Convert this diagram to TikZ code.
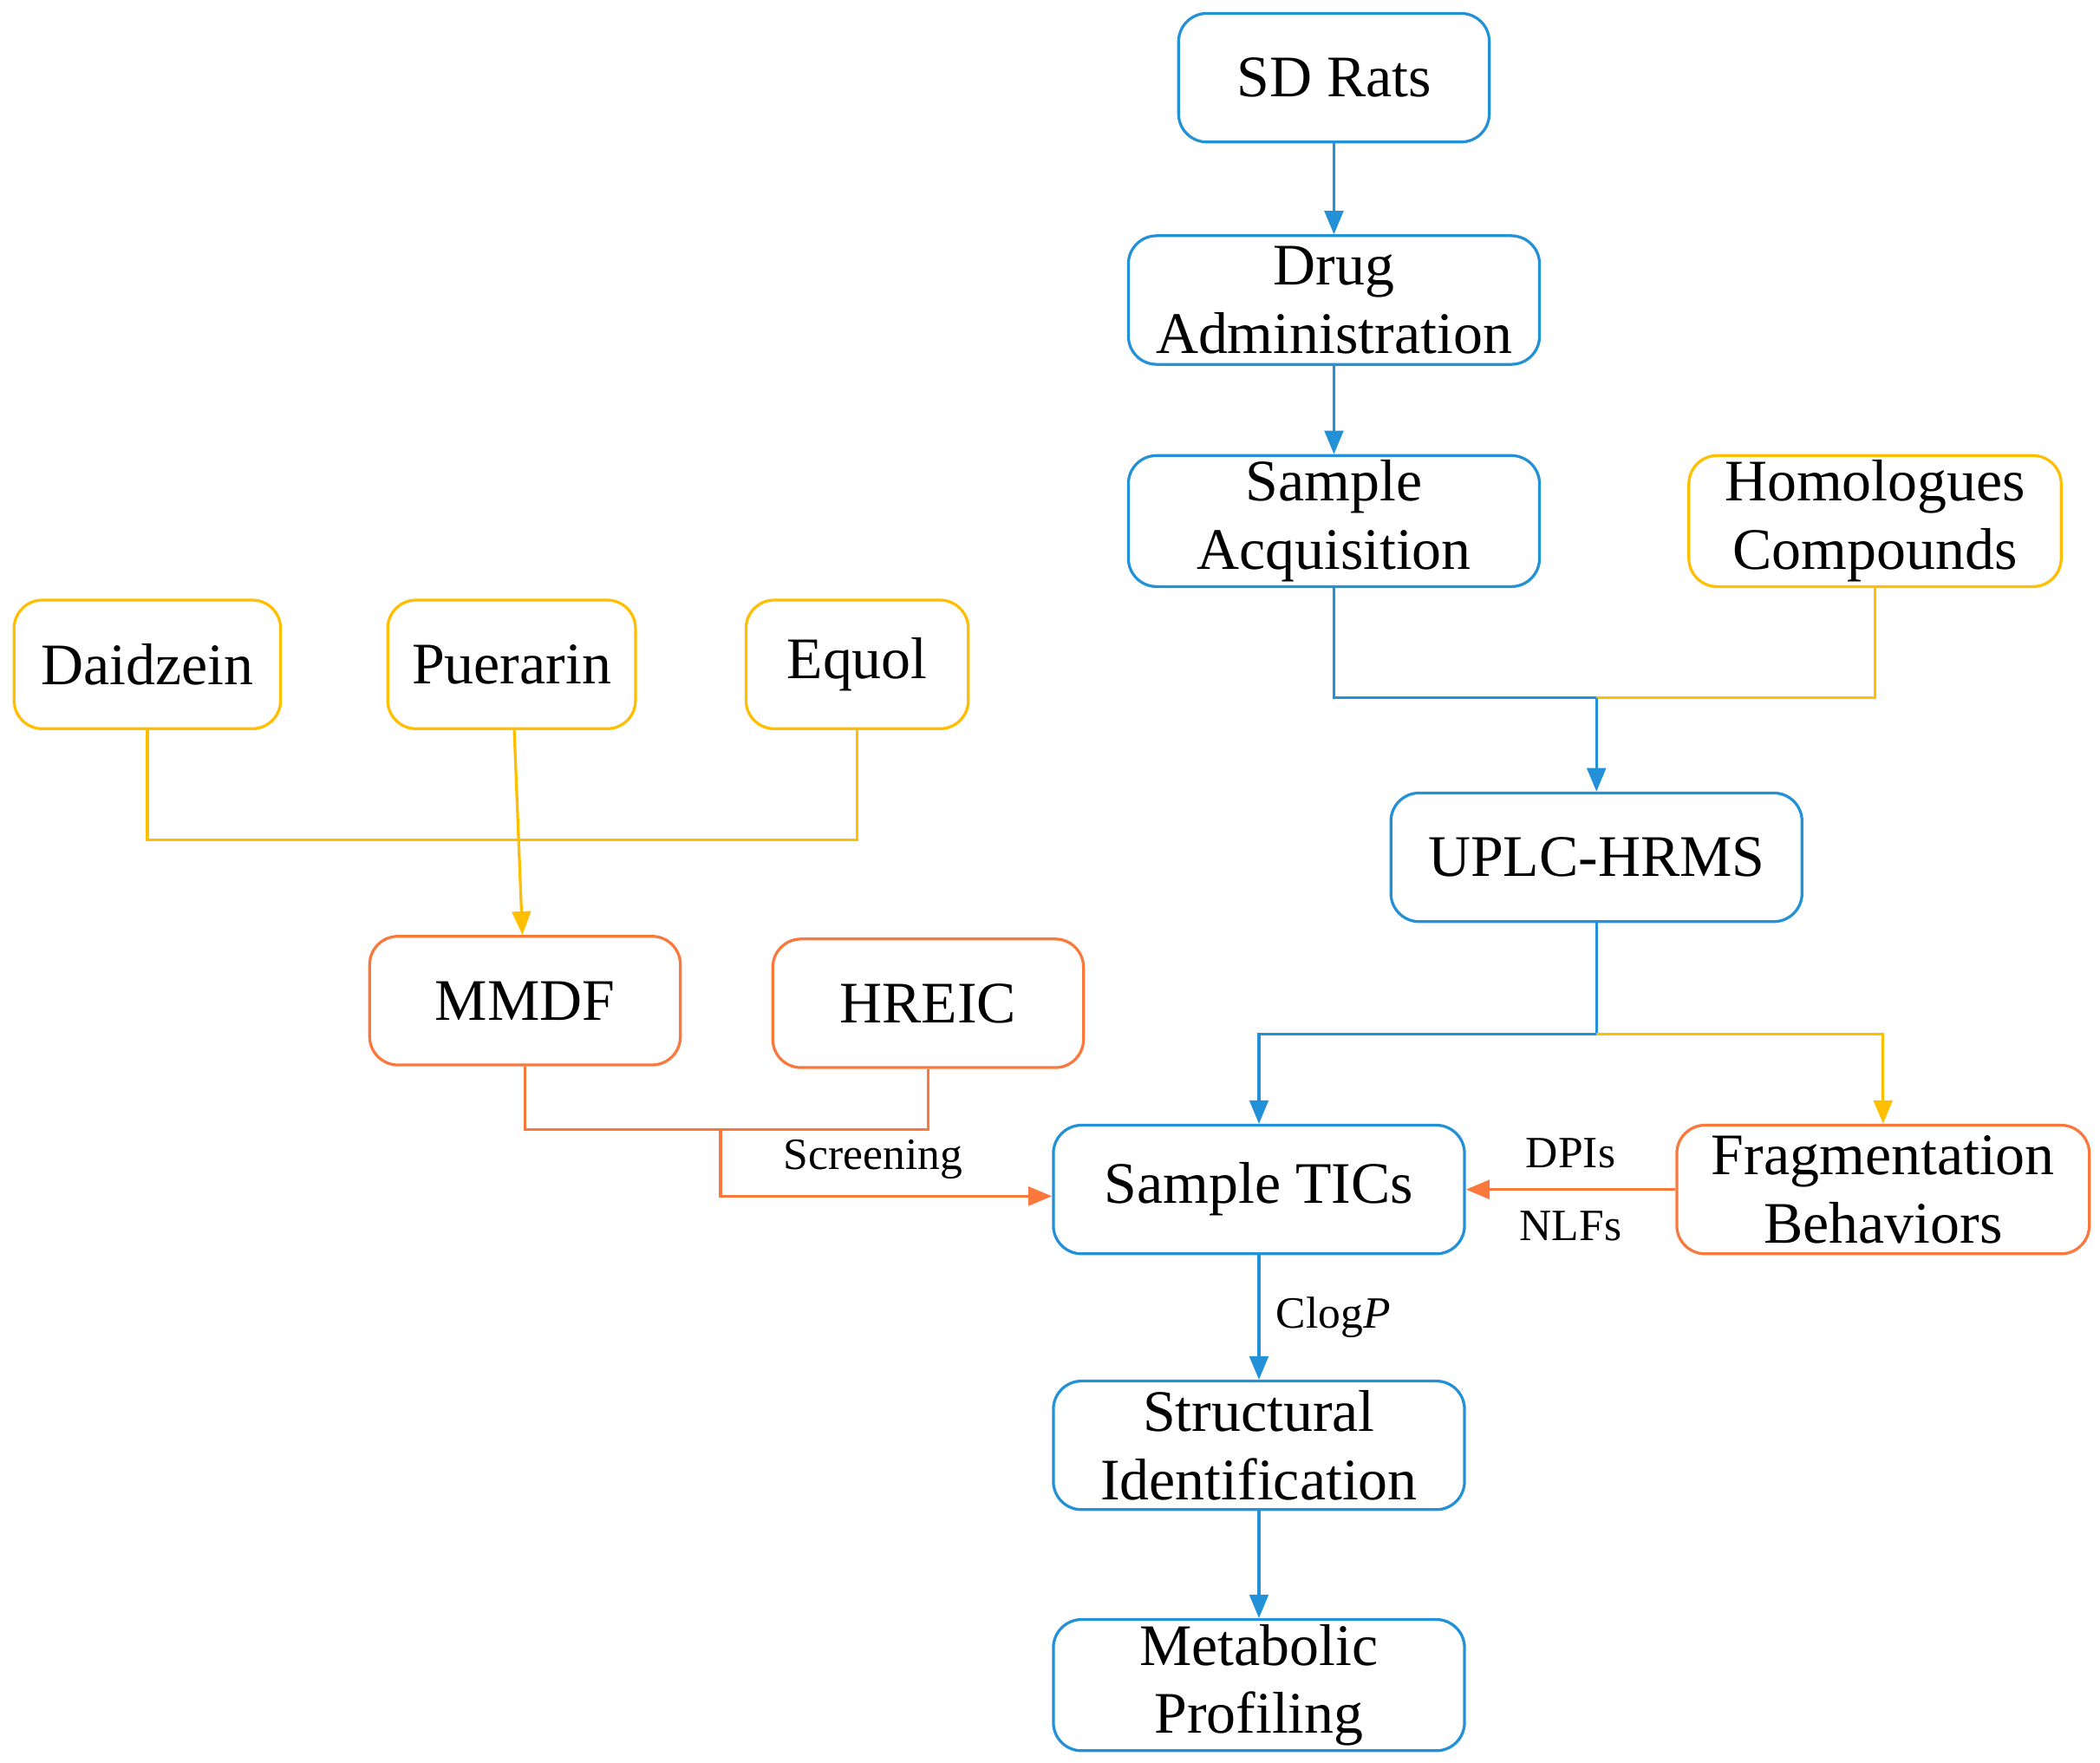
\documentclass[tikz,border=0pt]{standalone}
\usepackage{fontspec}
\setmainfont{Liberation Serif}
\usepackage{xcolor}
\definecolor{flowblue}{RGB}{35,145,215}
\definecolor{flowyellow}{RGB}{255,190,0}
\definecolor{floworange}{RGB}{250,120,60}
\usetikzlibrary{positioning}
\usetikzlibrary{arrows.meta}
\begin{document}
\begin{tikzpicture}[font=\fontsize{12.5}{14.5}\selectfont,
      box style/.style={rectangle,draw,rounded corners=6pt,line width=0.6pt,
        minimum height=0.96cm,align=center,inner sep=1pt},
      blue box/.style={box style,draw=flowblue},
      yellow box/.style={box style,draw=flowyellow},
      orange box/.style={box style,draw=floworange},
      blue line/.style={draw=flowblue,line width=0.6pt},
      yellow line/.style={draw=flowyellow,line width=0.6pt},
      orange line/.style={draw=floworange,line width=0.6pt},
      tip/.style={-{Triangle[length=5pt,width=4pt]}},
      small label/.style={font=\fontsize{9.5}{11}\selectfont}
      ]
      \useasboundingbox (0,0) rectangle (15.68,-13.16);
      % right column
      \node[blue box, minimum width=2.32cm] (rats) at (9.96,-0.58) {SD Rats};
      \node[blue box, minimum width=3.07cm] (drug) at (9.96,-2.24) {Drug\\Administration};
      \node[blue box, minimum width=3.07cm] (sample) at (9.96,-3.89) {Sample\\Acquisition};
      \node[yellow box, minimum width=2.78cm] (homol) at (14.00,-3.89) {Homologues\\Compounds};
      \node[blue box, minimum width=3.07cm] (uplc) at (11.92,-6.40) {UPLC-HRMS};
      \node[blue box, minimum width=3.07cm] (tics) at (9.40,-8.88) {Sample TICs};
      \node[orange box, minimum width=3.08cm] (frag) at (14.06,-8.88) {Fragmentation\\Behaviors};
      \node[blue box, minimum width=3.07cm] (struct) at (9.40,-10.79) {Structural\\Identification};
      \node[blue box, minimum width=3.07cm] (meta) at (9.40,-12.58) {Metabolic\\Profiling};
      % left column
      \node[yellow box, minimum width=1.99cm] (daid) at (1.10,-4.96) {Daidzein};
      \node[yellow box, minimum width=1.85cm] (puer) at (3.82,-4.96) {Puerarin};
      \node[yellow box, minimum width=1.66cm] (equol) at (6.40,-4.96) {Equol};
      \node[orange box, minimum width=2.32cm] (mmdf) at (3.92,-7.47) {MMDF};
      \node[orange box, minimum width=2.32cm] (hreic) at (6.93,-7.49) {HREIC};

      \coordinate (joinA) at (11.92,-5.21);
      \coordinate (joinB) at (11.92,-7.72);
      \coordinate (joinC) at (3.82,-6.27);
      \coordinate (joinD) at (5.38,-8.43);

      \draw[blue line,tip] (rats) -- (drug);
      \draw[blue line,tip] (drug) -- (sample);
      \draw[blue line] (sample.south) |- (joinA);
      \draw[yellow line] (homol.south) |- (joinA);
      \draw[blue line,tip] (joinA) -- (uplc);
      \draw[blue line] (uplc.south) -- (joinB);
      \draw[blue line,tip] (joinB) -| (tics.north);
      \draw[yellow line,tip] (joinB) -| (frag.north);
      \draw[yellow line] (daid.south) |- (joinC);
      \draw[yellow line] (equol.south) |- (joinC);
      \draw[yellow line,tip] (puer) -- (mmdf);
      \draw[orange line] (mmdf.south) |- (joinD);
      \draw[orange line] (hreic.south) |- (joinD);
      \draw[orange line,tip] (joinD) |- node[small label,above,pos=0.73] {Screening} ([yshift=-0.05cm]tics.west);
      \draw[orange line,tip] (frag) -- node[small label,above=1pt] {DPIs} node[small label,below=1pt] {NLFs} (tics);
      \draw[blue line,tip] (tics) -- node[small label,right] {Clog\textit{P}} (struct);
      \draw[blue line,tip] (struct) -- (meta);
    \end{tikzpicture}
\end{document}
